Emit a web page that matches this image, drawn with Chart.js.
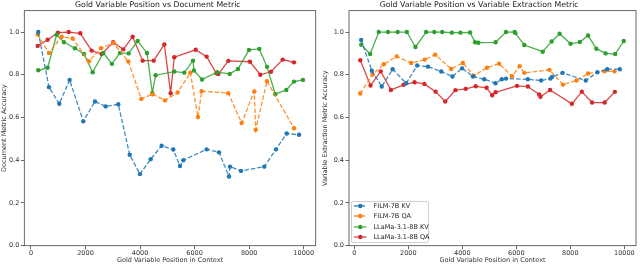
<!DOCTYPE html>
<html>
<head>
<meta charset="utf-8">
<script src="https://cdn.jsdelivr.net/npm/chart.js@4.4.1/dist/chart.umd.min.js"></script>
<style>
  html, body { margin: 0; padding: 0; background: #fff; }
  body { width: 640px; height: 264px; position: relative; overflow: hidden; font-family: "DejaVu Sans", sans-serif; }
  .panel { position: absolute; top: 0; width: 320px; height: 264px; }
  #legend { position: absolute; left: 350.5px; top: 201px; width: 78px; height: 42px; box-sizing: border-box;
            border: 1px solid #d0d0d0; border-radius: 2px; background: rgba(255,255,255,0.8); }
  .row { position: absolute; left: 1px; height: 10px; display: flex; align-items: center; font-size: 6.5px; color: #222; white-space: nowrap; }
  .row svg { margin-right: 6px; }
</style>
</head>
<body>
<div class="panel" style="left:0"><canvas id="graficoDoc" width="320" height="264"></canvas></div>
<div class="panel" style="left:320px"><canvas id="graficoVar" width="320" height="264"></canvas></div>
<div id="legend"></div>
<script>
// series names / colours
const seriesLabels = ['FILM-7B KV', 'FILM-7B QA', 'LLaMa-3.1-8B KV', 'LLaMa-3.1-8B QA'];
const seriesColors = ['31, 119, 180', '255, 127, 14', '44, 160, 44', '214, 39, 40'];
const seriesDashed = [true, true, false, false];

const xTicks = [0, 2000, 4000, 6000, 8000, 10000];
const yTicks = [0, 0.2, 0.4, 0.6, 0.8, 1.0];

// left: Document Metric
const docFilmKvX = [268, 660, 1039, 1418, 1919, 2347, 2738, 3202, 3620, 3997, 4389, 4792, 5219, 5464, 5586, 6442, 6894, 7261, 7297, 7700, 8556, 8984, 9376, 9828];
const docFilmKvY = [1.0, 0.742, 0.664, 0.776, 0.582, 0.675, 0.652, 0.662, 0.426, 0.335, 0.405, 0.468, 0.45, 0.373, 0.40, 0.451, 0.437, 0.324, 0.37, 0.35, 0.37, 0.451, 0.525, 0.519];
const docFilmQaX = [245, 660, 1125, 1528, 2127, 2567, 3018, 3569, 4046, 4462, 4914, 5379, 5843, 6124, 6259, 7235, 7725, 8189, 8240, 8654, 9644];
const docFilmQaY = [0.989, 0.902, 0.978, 0.970, 0.863, 0.924, 0.949, 0.862, 0.687, 0.709, 0.680, 0.717, 0.810, 0.602, 0.723, 0.714, 0.574, 0.722, 0.543, 0.770, 0.550];
const docLlamaKvX = [268, 612, 942, 1210, 1613, 1943, 2262, 2652, 2970, 3264, 3582, 3912, 4254, 4449, 4572, 5255, 5622, 5941, 5977, 6271, 6832, 7286, 7591, 7994, 8372, 8654, 8959, 9362, 9644, 9974];
const docLlamaKvY = [0.821, 0.833, 0.987, 0.952, 0.924, 0.897, 0.812, 0.902, 0.851, 0.902, 0.900, 0.958, 0.902, 0.715, 0.798, 0.815, 0.810, 0.866, 0.820, 0.778, 0.812, 0.804, 0.827, 0.916, 0.921, 0.837, 0.709, 0.729, 0.768, 0.776];
const docLlamaQaX = [245, 612, 990, 1382, 1809, 2225, 2592, 3018, 3385, 3728, 4095, 4499, 4889, 5122, 5255, 6039, 6442, 6798, 6870, 7235, 8031, 8409, 8801, 9229, 9644];
const docLlamaQaY = [0.935, 0.964, 0.997, 1.0, 0.994, 0.913, 0.897, 0.952, 0.919, 0.978, 0.866, 0.866, 0.942, 0.714, 0.882, 0.917, 0.885, 0.807, 0.803, 0.865, 0.861, 0.80, 0.814, 0.871, 0.858];

// right: Variable Extraction Metric
const varFilmKvX = [257, 650, 1017, 1421, 1924, 2328, 2732, 3221, 3636, 3992, 4396, 4811, 5230, 5461, 5619, 6427, 6919, 7261, 7323, 7712, 8571, 9000, 9365, 9831];
const varFilmKvY = [0.963, 0.819, 0.745, 0.826, 0.760, 0.843, 0.838, 0.815, 0.792, 0.830, 0.792, 0.779, 0.760, 0.779, 0.782, 0.779, 0.773, 0.782, 0.790, 0.809, 0.773, 0.812, 0.826, 0.826];
const varFilmQaX = [221, 676, 1091, 1568, 2108, 2608, 3000, 3588, 4018, 4433, 4910, 5362, 5839, 6122, 6294, 7223, 7727, 8226, 8656, 9269, 9636];
const varFilmQaY = [0.712, 0.801, 0.849, 0.886, 0.855, 0.871, 0.894, 0.827, 0.855, 0.796, 0.833, 0.852, 0.793, 0.840, 0.809, 0.823, 0.754, 0.773, 0.806, 0.816, 0.816];
const varLlamaKvX = [257, 588, 907, 1249, 1605, 1946, 2266, 2659, 2964, 3257, 3614, 3930, 4286, 4470, 4591, 5230, 5619, 5938, 5964, 6294, 6977, 7308, 7602, 8006, 8351, 8656, 8961, 9306, 9659, 9978];
const varLlamaKvY = [0.941, 0.897, 1.0, 1.0, 1.0, 1.0, 0.930, 1.0, 1.0, 1.0, 0.997, 0.997, 0.998, 0.952, 0.950, 0.952, 1.0, 1.0, 0.995, 0.939, 0.908, 0.956, 0.992, 0.945, 0.953, 0.984, 0.922, 0.900, 0.897, 0.958];
const varLlamaQaX = [221, 602, 981, 1359, 1825, 2229, 2596, 3011, 3368, 3746, 4128, 4495, 4899, 5105, 5230, 6023, 6427, 6845, 6893, 7249, 8057, 8424, 8803, 9269, 9647];
const varLlamaQaY = [0.868, 0.750, 0.816, 0.729, 0.753, 0.765, 0.757, 0.721, 0.675, 0.728, 0.734, 0.746, 0.739, 0.704, 0.718, 0.748, 0.745, 0.708, 0.697, 0.729, 0.664, 0.721, 0.670, 0.670, 0.720];

function pts(xs, ys) {
    return xs.map((x, i) => ({ x: x, y: ys[i] }));
}

function serie(i, xs, ys) {
    return {
        label: seriesLabels[i],
        data: pts(xs, ys),
        borderColor: 'rgba(' + seriesColors[i] + ', 0.85)',
        backgroundColor: 'rgb(' + seriesColors[i] + ')',
        pointBackgroundColor: 'rgb(' + seriesColors[i] + ')',
        pointBorderWidth: 0,
        pointRadius: 2.2,
        borderWidth: 1.3,
        borderDash: seriesDashed[i] ? [4.5, 2] : [],
        tension: 0
    };
}

// matplotlib-like box around the plot
const frame = {
    id: 'frame',
    afterDraw(chart) {
        const a = chart.chartArea, c = chart.ctx;
        c.save();
        c.strokeStyle = '#444';
        c.lineWidth = 0.8;
        c.strokeRect(a.left, a.top, a.right - a.left, a.bottom - a.top);
        c.restore();
    }
};

function makeConfig(title, yTitle, datasets, xMin, xMax, yWidth, titleTop, padRight) {
    const tickFont = { family: 'DejaVu Sans', size: 6.5 };
    const grid = { drawOnChartArea: false, drawTicks: true, tickLength: 3.5, tickColor: '#444', tickWidth: 0.8 };
    return {
        type: 'line',
        data: { datasets: datasets },
        options: {
            responsive: false,
            animation: false,
            layout: { padding: { left: 0, right: padRight, top: 0, bottom: 0 } },
            plugins: {
                legend: { display: false },
                tooltip: { enabled: false },
                title: {
                    display: true, text: title, color: '#222',
                    font: { family: 'DejaVu Sans', size: 7.8, weight: 'normal' },
                    padding: { top: 0, bottom: 1.3 }
                }
            },
            scales: {
                x: {
                    type: 'linear', min: xMin, max: xMax,
                    afterBuildTicks: s => { s.ticks = xTicks.map(v => ({ value: v })); },
                    afterFit: s => { s.height = 18.3; },
                    grid: grid, border: { display: false },
                    ticks: { font: tickFont, color: '#333', padding: 0, maxRotation: 0, callback: v => String(v) },
                    title: { display: true, text: 'Gold Variable Position in Context', color: '#333', font: tickFont, padding: 0 }
                },
                y: {
                    type: 'linear', min: 0, max: 1.1,
                    afterBuildTicks: s => { s.ticks = yTicks.map(v => ({ value: v })); },
                    afterFit: s => { s.width = yWidth; },
                    grid: grid, border: { display: false },
                    ticks: { font: tickFont, color: '#333', padding: 1.5, callback: v => v.toFixed(1) },
                    title: { display: true, text: yTitle, color: '#333', font: tickFont, padding: { top: titleTop, bottom: 0 } }
                }
            }
        },
        plugins: [frame]
    };
}

document.addEventListener('DOMContentLoaded', function() {
    new Chart(document.getElementById('graficoDoc').getContext('2d'), makeConfig(
        'Gold Variable Position vs Document Metric', 'Document Metric Accuracy',
        [serie(0, docFilmKvX, docFilmKvY), serie(1, docFilmQaX, docFilmQaY),
         serie(2, docLlamaKvX, docLlamaKvY), serie(3, docLlamaQaX, docLlamaQaY)],
        -244, 10440, 24.3, 0, 4.3));

    new Chart(document.getElementById('graficoVar').getContext('2d'), makeConfig(
        'Gold Variable Position vs Variable Extraction Metric', 'Variable Extraction Metric Accuracy',
        [serie(0, varFilmKvX, varFilmKvY), serie(1, varFilmQaX, varFilmQaY),
         serie(2, varLlamaKvX, varLlamaKvY), serie(3, varLlamaQaX, varLlamaQaY)],
        -195, 10430, 29, 1, 1.7));

    // legend inside the right plot
    const box = document.getElementById('legend');
    seriesLabels.forEach((label, i) => {
        const row = document.createElement('div');
        row.className = 'row';
        row.style.top = (-1 + i * 10.3) + 'px';
        const dash = seriesDashed[i] ? ' stroke-dasharray="4.5 2"' : '';
        row.innerHTML = '<svg width="14" height="6" style="margin-left:1px">' +
            '<line x1="0" y1="3" x2="12.5" y2="3" stroke="rgba(' + seriesColors[i] + ',0.85)" stroke-width="1.3"' + dash + '/>' +
            '<circle cx="6.3" cy="3" r="2.2" fill="rgb(' + seriesColors[i] + ')"/></svg>' +
            '<span>' + label + '</span>';
        box.appendChild(row);
    });
});
</script>
</body>
</html>
